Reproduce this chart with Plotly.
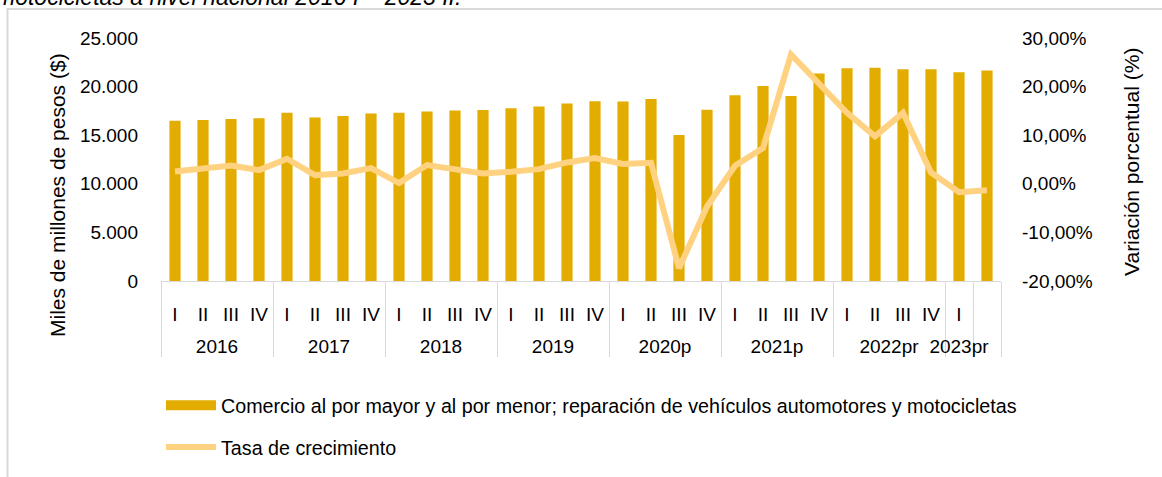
import plotly.graph_objects as go

years = ["2016"] * 4 + ["2017"] * 4 + ["2018"] * 4 + ["2019"] * 4 + ["2020p"] * 4 + \
        ["2021p"] * 4 + ["2022pr"] * 4 + ["2023pr"] + [" "]
quarters = ["I", "II", "III", "IV"] * 7 + ["I", " "]

valor = [16495, 16565, 16670, 16740, 17320, 16810, 16980, 17220,
         17320, 17430, 17530, 17600, 17770, 17940, 18250, 18490,
         18460, 18730, 15020, 17630, 19110, 20070, 19040, 21340,
         21890, 21930, 21790, 21790, 21480, 21660]

tasa = [2.54, 3.16, 3.78, 2.82, 5.15, 1.79, 2.13, 3.23,
        0.14, 3.85, 3.02, 2.13, 2.47, 3.02, 4.40, 5.29,
        4.08, 4.33, -17.39, -4.67, 3.71, 7.35, 26.6, 20.6,
        14.6, 9.76, 14.6, 2.34, -1.72, -1.31]
tasa = [t / 100 for t in tasa]

bar_name = "Comercio al por mayor y al por menor; reparación de vehículos automotores y motocicletas"
line_name = "Tasa de crecimiento"
y_title = "Miles de millones de pesos ($)"
y2_title = "Variación porcentual (%)"
title_tail = "motocicletas a nivel nacional 2016 I – 2023 II."

y2_vals = [-0.2, -0.1, 0, 0.1, 0.2, 0.3]
y2_text = ["-20,00%", "-10,00%", "0,00%", "10,00%", "20,00%", "30,00%"]

BAR_C = "#E2AC00"
LINE_C = "#FFD282"
GRAY = "#D9D9D9"
FONT = "Arial, Liberation Sans, sans-serif"

# push the year row further below the quarter row
year_lbl = ["<br>" + y for y in years]

fig = go.Figure()
fig.add_trace(go.Bar(x=[year_lbl, quarters], y=valor, marker_color=BAR_C,
                     marker_line_width=0, showlegend=False, name=bar_name))
# legend entry for bars
fig.add_trace(go.Scatter(x=[[year_lbl[0]], [quarters[0]]], y=[None], mode="lines",
                         line=dict(color=BAR_C, width=10), name=bar_name,
                         legendgroup="a", hoverinfo="skip"))
fig.add_trace(go.Scatter(x=[year_lbl, quarters], y=tasa, mode="lines", yaxis="y2",
                         line=dict(color=LINE_C, width=6), name=line_name,
                         legendgroup="b"))

H0 = 281
PH = 243
def py(p):
    return (H0 - p) / PH
def px(p):
    return (p - 161) / 840

fig.update_layout(
    width=1162, height=477,
    margin=dict(l=161, r=161, t=38, b=196, autoexpand=False),
    paper_bgcolor="white", plot_bgcolor="white",
    separators=",.",
    font=dict(family=FONT, size=19, color="#000000"),
    bargap=0.6,
    xaxis=dict(type="multicategory", showline=True, linecolor=GRAY, linewidth=1,
               showgrid=False, ticks="", showdividers=True, dividercolor=GRAY,
               dividerwidth=1, tickfont=dict(size=19), tickangle=0,
               automargin=False, ticklabelstandoff=16),
    yaxis=dict(range=[0, 25000], tickvals=[0, 5000, 10000, 15000, 20000, 25000],
               tickformat=",d", showgrid=False, zeroline=False, showline=False,
               ticklabelstandoff=22, tickfont=dict(size=19), automargin=False),
    yaxis2=dict(range=[-0.2, 0.3], overlaying="y", side="right",
                tickvals=y2_vals, ticktext=y2_text, showgrid=False, zeroline=False,
                showline=False, ticklabelstandoff=20, tickfont=dict(size=19),
                automargin=False),
    legend=dict(x=px(161), y=py(386), xanchor="left", yanchor="top",
                font=dict(size=19.7), traceorder="grouped", tracegroupgap=13,
                itemwidth=50, bgcolor="rgba(0,0,0,0)"),
    showlegend=True,
)

fig.add_annotation(text=y_title, textangle=-90, x=px(57), y=py(195), xref="paper",
                   yref="paper", showarrow=False, font=dict(size=21),
                   xanchor="center", yanchor="middle")
fig.add_annotation(text=y2_title, textangle=-90, x=px(1131), y=py(162), xref="paper",
                   yref="paper", showarrow=False, font=dict(size=21),
                   xanchor="center", yanchor="middle")
fig.add_annotation(text="<i>" + title_tail + "</i>", x=px(463), y=py(-3), xref="paper",
                   yref="paper", showarrow=False, font=dict(size=23),
                   xanchor="right", yanchor="middle")

fig.add_shape(type="rect", xref="paper", yref="paper",
              x0=px(7.5), x1=px(1175), y0=py(495), y1=py(9),
              line=dict(color=GRAY, width=2), fillcolor="rgba(0,0,0,0)", layer="below")

fig.write_html("out.html", config={"displayModeBar": False},
               post_script="document.body.style.margin='0';document.body.style.overflow='hidden';")
